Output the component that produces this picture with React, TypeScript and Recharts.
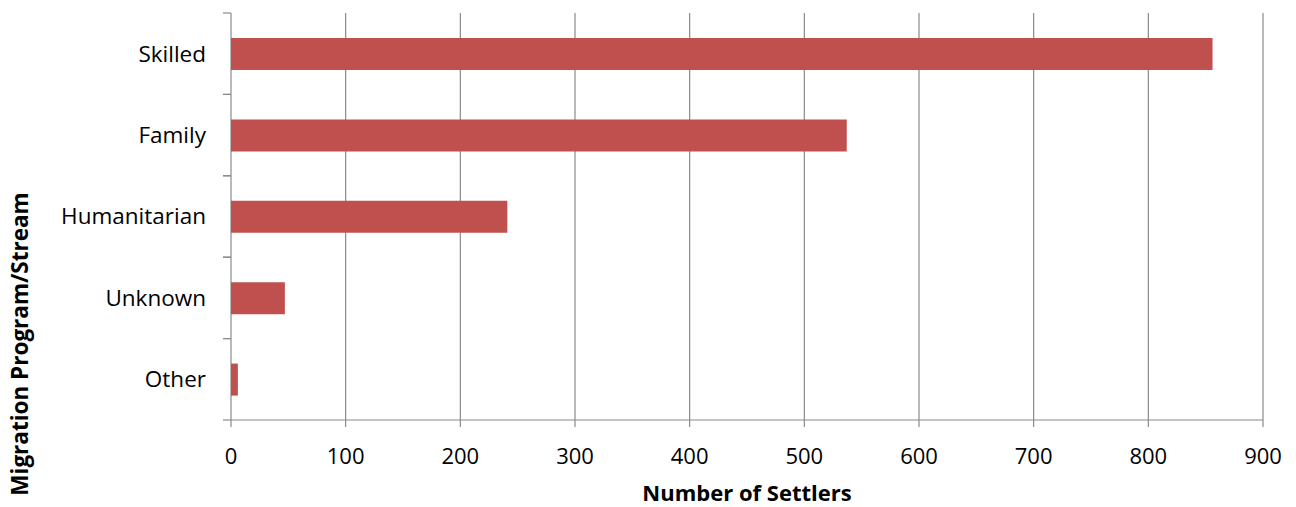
import React from 'react';
import { BarChart, Bar, XAxis, YAxis, CartesianGrid, ReferenceArea } from 'recharts';

const categories = ['Skilled', 'Family', 'Humanitarian', 'Unknown', 'Other'];
const settlers = [856, 537, 241, 47, 6];
const xTicks = [0, 100, 200, 300, 400, 500, 600, 700, 800, 900];

const data = categories.map((c, i) => ({ category: c, value: settlers[i] }));

const FONT = '"Open Sans", "Noto Sans", sans-serif';
const GRAY = '#8a8a8a';

const BoundaryTicks = (props: any) => {
  const { x, y, height } = props;
  return (
    <g>
      <line x1={x - 8} x2={x} y1={y} y2={y} stroke={GRAY} strokeWidth={1.2} />
      <line x1={x - 8} x2={x} y1={y + height} y2={y + height} stroke={GRAY} strokeWidth={1.2} />
    </g>
  );
};

export default function App() {
  return (
    <div style={{ position: 'absolute', left: 0, top: 0 }}>
      <BarChart
        width={1296}
        height={507}
        data={data}
        layout="vertical"
        margin={{ top: 13, right: 33, left: 0, bottom: 0 }}
        barSize={32}
      >
        <CartesianGrid horizontal={false} stroke={GRAY} strokeWidth={1.2} />
        <XAxis
          type="number"
          domain={[0, 900]}
          ticks={xTicks}
          interval={0}
          height={87}
          tickSize={7}
          tickMargin={21}
          axisLine={{ stroke: GRAY, strokeWidth: 1.2 }}
          tickLine={{ stroke: GRAY, strokeWidth: 1.2 }}
          tick={{ fill: '#000', fontSize: 22, fontFamily: FONT }}
          label={(props: any) => {
            const vb = props.viewBox || {};
            const cx = (vb.x ?? 231) + (vb.width ?? 1032) / 2;
            return (
              <text x={cx} y={501} textAnchor="middle" fontFamily={FONT} fontSize={22} fontWeight="bold" fill="#000">
                Number of Settlers
              </text>
            );
          }}
        />
        <YAxis
          yAxisId="cat"
          type="category"
          dataKey="category"
          width={231}
          axisLine={false}
          tickLine={false}
          tickSize={0}
          tickMargin={25}
          tick={{ fill: '#000', fontSize: 22.5, fontFamily: FONT }}
          label={() => (
            <text
              x={0}
              y={0}
              transform="translate(28,344) rotate(-90)"
              textAnchor="middle"
              fontFamily={FONT}
              fontSize={22.5}
              fontWeight="bold"
              fill="#000"
            >
              Migration Program/Stream
            </text>
          )}
        />
        {categories.map((c) => (
          <ReferenceArea
            key={c}
            yAxisId="cat"
            y1={c}
            y2={c}
            x1={0}
            x2={900}
            ifOverflow="visible"
            shape={BoundaryTicks}
          />
        ))}
        <Bar dataKey="value" yAxisId="cat" fill="#C0504D" isAnimationActive={false} />
      </BarChart>
    </div>
  );
}
